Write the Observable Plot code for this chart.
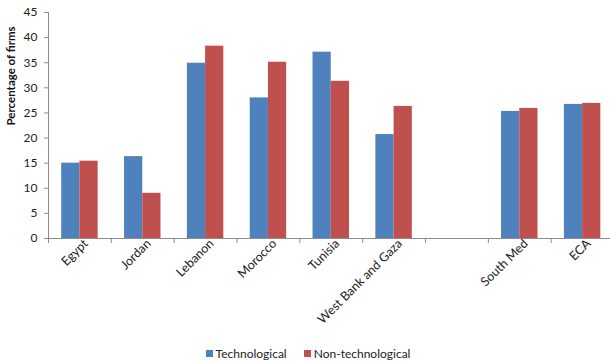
<!DOCTYPE html>
<html>
<head>
<meta charset="utf-8">
<script src="https://cdn.jsdelivr.net/npm/d3@7"></script>
<script src="https://cdn.jsdelivr.net/npm/@observablehq/plot@0.6"></script>
<style>
  body { margin: 0; background: #fff; font-family: Lato, "Open Sans", sans-serif; }
  #legend { display: flex; justify-content: center; align-items: center; gap: 17px; height: 20px;
            font-size: 12px; color: #222; padding-left: 6px; }
  #legend .item { display: flex; align-items: center; }
  #legend .sw { display: inline-block; width: 7px; height: 7px; margin-right: 3px; }
</style>
</head>
<body>
<div id="chart"></div>
<div id="legend"></div>
<script>
// Share of firms (%) by country, technological vs non-technological
const categories = ["Egypt", "Jordan", "Lebanon", "Morocco", "Tunisia", "West Bank and Gaza", "", "South Med", "ECA"];
const technological = [15.0, 16.3, 34.9, 28.0, 37.1, 20.7, null, 25.3, 26.7];
const nonTechnological = [15.4, 9.0, 38.3, 35.1, 31.3, 26.3, null, 25.9, 26.9];
const seriesNames = ["Technological", "Non-technological"];
const seriesColors = ["#4F81BD", "#C0504D"];
const yTicks = [0, 5, 10, 15, 20, 25, 30, 35, 40, 45];
const yTitle = "Percentage of firms";

// Each category occupies one unit slot on x; the two bars sit side by side in the middle
const barSpan = [[0.21, 0.5], [0.5, 0.79]];
const rows = [];
[technological, nonTechnological].forEach((values, s) => {
  values.forEach((v, i) => {
    if (v != null) rows.push({category: categories[i], slot: i, series: seriesNames[s], s, value: v});
  });
});

const axisGrey = "#8c8c8c";
const chart = Plot.plot({
  width: 610,
  height: 343,
  marginTop: 12,
  marginLeft: 48,
  marginRight: 0,
  marginBottom: 105,
  style: {fontFamily: "Lato, 'Open Sans', sans-serif", fontSize: "11px", color: "#222", background: "#fff"},
  x: {type: "linear", domain: [0, 8.944]},
  y: {domain: [0, 45]},
  color: {domain: seriesNames, range: seriesColors},
  marks: [
    Plot.rect(rows, {
      x1: d => d.slot + barSpan[d.s][0],
      x2: d => d.slot + barSpan[d.s][1],
      y1: () => 0,
      y2: "value",
      fill: "series"
    }),
    Plot.ruleX([0], {y1: 0, y2: 45, stroke: axisGrey}),
    Plot.ruleY([0], {stroke: axisGrey}),
    Plot.axisY({ticks: yTicks, tickSize: 4, tickPadding: 7, stroke: axisGrey, label: null, fontSize: 12}),
    Plot.axisX({ticks: d3.range(0, 10), tickSize: 5, tickFormat: () => "", stroke: axisGrey, label: null}),
    Plot.axisX({
      ticks: categories.map((c, i) => i + 0.5),
      tickSize: 0,
      tickPadding: 3,
      tickRotate: -45,
      tickFormat: d => categories[Math.floor(d)],
      label: null,
      fontSize: 12.5,
      dx: 6
    }),
    Plot.text([yTitle], {
      frameAnchor: "left",
      rotate: -90,
      dx: -37,
      fontWeight: "bold",
      fontSize: 11.5,
      fill: "#111"
    })
  ]
});
document.getElementById("chart").appendChild(chart);

const legend = document.getElementById("legend");
seriesNames.forEach((name, i) => {
  const item = document.createElement("span");
  item.className = "item";
  const sw = document.createElement("span");
  sw.className = "sw";
  sw.style.background = seriesColors[i];
  item.appendChild(sw);
  item.appendChild(document.createTextNode(name));
  legend.appendChild(item);
});
</script>
</body>
</html>
